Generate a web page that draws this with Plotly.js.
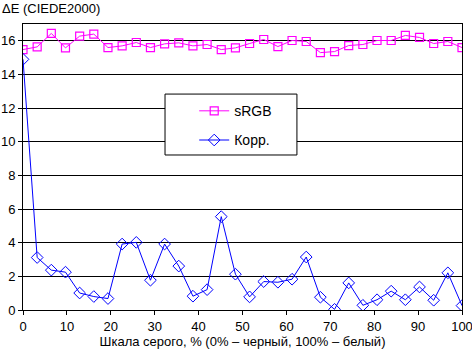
<!DOCTYPE html>
<html><head><meta charset="utf-8">
<script src="https://cdn.plot.ly/plotly-3.0.1.min.js"></script>
<style>html,body{margin:0;padding:0;background:#fff}#c{width:472px;height:353px}</style>
</head><body><div id="c"></div>
<script>
var n = 32;
var xs = [];
for (var i = 0; i < n; i++) xs.push(i * 100 / (n - 1));
var srgb = [15.48,15.64,16.44,15.58,16.28,16.4,15.6,15.7,15.9,15.6,15.82,15.88,15.7,15.78,15.48,15.58,
            15.84,16.08,15.66,16.02,15.96,15.3,15.36,15.72,15.78,16.02,16.02,16.32,16.2,15.84,15.96,15.6];
var korr = [14.9,3.12,2.37,2.25,1.01,0.8,0.68,3.92,4.02,1.77,3.92,2.61,0.82,1.21,5.55,2.13,
            0.78,1.69,1.65,1.83,3.15,0.76,0.04,1.61,0.28,0.61,1.12,0.61,1.37,0.58,2.21,0.26];
var font = {family: 'Liberation Sans, Arial, sans-serif', size: 13, color: '#000'};
var traces = [
  {x: xs, y: srgb, name: 'sRGB', legendgroup: 'a', type: 'scatter', mode: 'lines+markers',
   line: {color: '#ff00ff', width: 1},
   marker: {symbol: 'square-open', size: 8, color: '#ff00ff', line: {width: 1.2}}},
  {x: xs, y: korr, name: 'Корр.', legendgroup: 'b', type: 'scatter', mode: 'lines+markers',
   line: {color: '#0000ff', width: 1},
   marker: {symbol: 'diamond-open', size: 9, color: '#0000ff', line: {width: 1}}}
];
var layout = {
  width: 472, height: 353,
  margin: {l: 23, r: 10, t: 24, b: 43},
  paper_bgcolor: '#fff', plot_bgcolor: '#fff',
  font: font,
  showlegend: true,
  legend: {x: 0.39, y: 0.751, xanchor: 'left', yanchor: 'top',
    bgcolor: 'rgba(0,0,0,0)', borderwidth: 0,
    font: {family: 'Liberation Sans, Arial, sans-serif', size: 14, color: '#000'},
    tracegroupgap: 8},
  shapes: [{type: 'rect', xref: 'paper', yref: 'paper', x0: 0.3235, x1: 0.624, y0: 0.542, y1: 0.755,
    fillcolor: '#fff', line: {color: '#000', width: 1}, layer: 'above'}],
  xaxis: {range: [0, 100], dtick: 10, tick0: 0, showgrid: false, zeroline: false,
    showline: true, linecolor: '#000', linewidth: 1, mirror: true, ticklabeloverflow: 'allow',
    ticks: 'outside', ticklen: 4, tickcolor: '#000', tickfont: font,
    title: {text: 'Шкала серого, % (0% – черный, 100% – белый)', font: font, standoff: 4}},
  yaxis: {range: [0, 17], tickvals: [0,2,4,6,8,10,12,14,16], showgrid: true, gridcolor: '#000', gridwidth: 1,
    zeroline: false, showline: true, linecolor: '#000', linewidth: 1, mirror: true,
    ticks: 'outside', ticklen: 4, tickcolor: '#000', tickfont: font},
  annotations: [{text: 'ΔE (CIEDE2000)', xref: 'paper', yref: 'paper', x: 0, y: 1,
    xanchor: 'left', yanchor: 'bottom', xshift: -23, yshift: 6, showarrow: false, font: font}]
};
Plotly.newPlot('c', traces, layout, {staticPlot: true, displayModeBar: false});
</script></body></html>
